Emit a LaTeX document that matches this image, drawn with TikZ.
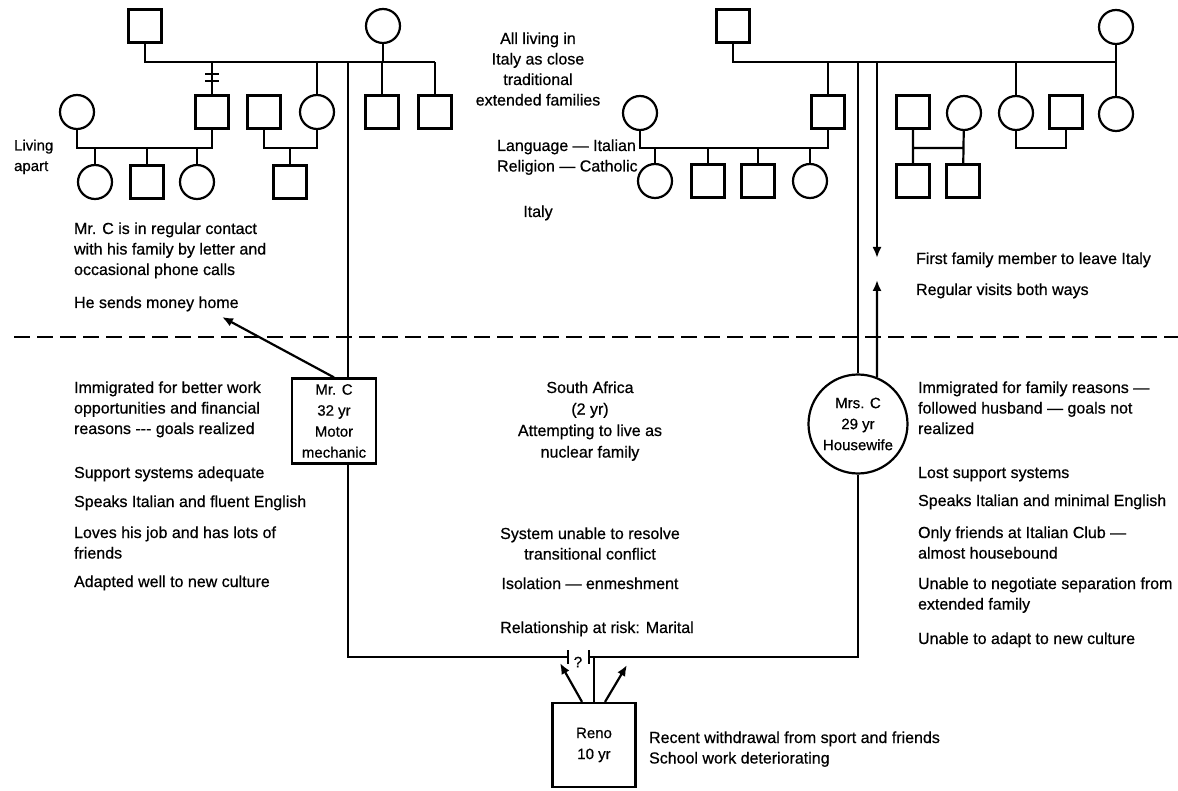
\documentclass[tikz,border=0pt]{standalone}
\usepackage{fontspec}
\setmainfont{Liberation Sans}[FakeBold=0.6]
\usetikzlibrary{arrows.meta,positioning,calc}

\begin{document}
\begin{tikzpicture}[x=1pt,y=-1pt,>={Latex[length=11pt,width=9pt]},line width=2.2pt,
  male/.style={draw,minimum size=33pt,inner sep=0pt},
  female/.style={draw,circle,minimum size=34pt,inner sep=0pt},
  index/.style={draw,align=center,inner sep=0pt,font=\fontsize{15}{21}\selectfont},
  note/.style={anchor=base west,align=left,inner sep=0pt,font=\fontsize{16}{20.5}\selectfont},
  mid/.style={anchor=base,align=center,inner sep=0pt,font=\fontsize{16}{20.5}\selectfont}]
  \useasboundingbox (0,0) rectangle (1178,791);

  % Mr C's family of origin (Italy)
  \node[male] (gfL) at (145,26) {};
  \node[female] (gmL) at (383,26) {};
  \coordinate (sibL) at (435,62);
  \draw (gfL) |- (sibL);
  \draw (gmL) -- (gmL |- sibL);
  \node[male] (uncL1) at (212,112) {};
  \node[male] (uncleinlawL) at (264,112) {};
  \node[female] (auntL) at (317,112) {};
  \node[male] (uncL2) at (382,112) {};
  \node[male] (uncL3) at (435,112) {};
  \draw (uncL1) -- (uncL1 |- sibL);
  \draw (auntL) -- (auntL |- sibL);
  \draw (uncL2) -- (uncL2 |- sibL);
  \draw (uncL3) -- (uncL3 |- sibL);
  \draw ($(uncL1.north)+(-7,-20)$) -- ++(14,0) ($(uncL1.north)+(-7,-13)$) -- ++(14,0);
  \node[female] (wifeL1) at (77,112) {};
  \coordinate (mlL1) at (145,148);
  \draw (wifeL1) |- (mlL1) -| (uncL1);
  \node[female] (cousL1) at (95,182) {};
  \node[male] (cousL2) at (147,182) {};
  \node[female] (cousL3) at (197,182) {};
  \foreach \k in {cousL1,cousL2,cousL3}
    \draw (\k) -- (\k |- mlL1);
  \coordinate (mlL2) at (290,148);
  \draw (uncleinlawL) |- (mlL2) -| (auntL);
  \node[male] (cousL4) at (290,182) {};
  \draw (cousL4) -- (cousL4 |- mlL2);
  \node[note,font=\fontsize{15}{20.5}\selectfont] (livingapart) at (13,171) {Living\\apart};

  % Mrs C's family of origin (Italy)
  \node[male] (gfR) at (733,26) {};
  \node[female] (gmR) at (1116,27) {};
  \coordinate (sibR) at (1116,62);
  \draw (gfR) |- (sibR);
  \node[female] (auntR3) at (1116,114) {};
  \draw (gmR) -- (auntR3);
  \node[male] (uncR1) at (828,112) {};
  \draw (uncR1) -- (uncR1 |- sibR);
  \node[female] (wifeR1) at (640,113) {};
  \coordinate (mlR1) at (734,148);
  \draw (wifeR1) |- (mlR1) -| (uncR1);
  \node[female] (cousR1) at (655,181) {};
  \node[male] (cousR2) at (708,181) {};
  \node[male] (cousR3) at (758,181) {};
  \node[female] (cousR4) at (810,181) {};
  \foreach \k in {cousR1,cousR2,cousR3,cousR4}
    \draw (\k) -- (\k |- mlR1);
  \node[male] (uncR2) at (913,112) {};
  \node[female] (auntR1) at (964,113) {};
  \node[male] (cousR5) at (913,181) {};
  \node[male] (cousR6) at (963,181) {};
  \coordinate (mlR2) at (938,148);
  \draw (uncR2) -- (cousR5) (auntR1) -- (cousR6) (mlR2 -| uncR2) -- (mlR2 -| auntR1);
  \node[female] (auntR2) at (1016,113) {};
  \node[male] (uncleinlawR) at (1066,112) {};
  \draw (auntR2) -- (auntR2 |- sibR);
  \coordinate (mlR3) at (1041,148);
  \draw (auntR2) |- (mlR3) -| (uncleinlawR);

  % Italy notes (base = last line)
  \node[note] (contact) at (73,275) {Mr. C is in regular contact\\with his family by letter and\\occasional phone calls};
  \node[note] (money) at (73,308) {He sends money home};
  \node[mid] (italyfam) at (538,105.5) {All living in\\Italy as close\\traditional\\extended families};
  \node[note] (langrel) at (496,171.5) {Language — Italian\\Religion — Catholic};
  \node[mid] (italy) at (538,217) {Italy};
  \node[note] (firstleave) at (915,264) {First family member to leave Italy};
  \node[note] (visits) at (915,295) {Regular visits both ways};

  % border between Italy and South Africa
  \coordinate (sepW) at (14,337);
  \coordinate (sepE) at (1178,337);
  \draw[line width=1.6pt,dash pattern=on 16pt off 7pt] (sepW) -- (sepE);

  % the C family in South Africa
  \node[index,minimum width=84pt,minimum height=85pt] (mrC) at (334,421) {Mr. C\\32 yr\\Motor\\mechanic};
  \node[index,circle,minimum size=99pt] (mrsC) at (858,424) {Mrs. C\\29 yr\\Housewife};
  \node[index,minimum width=83pt,minimum height=84pt] (reno) at (594,745) {Reno\\10 yr};
  \coordinate (mrCx) at (348,62);
  \coordinate (tickL) at (568,657);
  \coordinate (tickR) at (589,657);
  \draw (mrCx) -- (mrCx |- mrC.north);
  \draw (mrCx |- mrC.south) |- (tickL);
  \draw (tickR) -| (mrsC);
  \draw (mrsC) -- (mrsC |- sibR);
  \draw ($(tickL)+(0,-7)$) -- ++(0,14) ($(tickR)+(0,-7)$) -- ++(0,14);
  \node[inner sep=0pt,font=\fontsize{15}{15}\selectfont] (query) at (578,662) {?};
  \draw (reno) -- (reno |- tickR);
  \coordinate (home) at (222,317);
  \draw[->] (mrC.north) -- (home);
  \coordinate (leaveR) at (877,258);
  \coordinate (visitR) at (877,280);
  \draw[->] (leaveR |- sibR) -- (leaveR);
  \draw[->] (mrsC.68) -- (visitR);
  \coordinate (pullL) at (560,663);
  \coordinate (pullR) at (627,665);
  \draw[->] ($(reno.north)+(-12,0)$) -- (pullL);
  \draw[->] ($(reno.north)+(11,0)$) -- (pullR);

  % South Africa notes (base = last line)
  \node[note] (whyC) at (73,434) {Immigrated for better work\\opportunities and financial\\reasons -{}-{}- goals realized};
  \node[note] (supportC) at (73,478) {Support systems adequate};
  \node[note] (langC) at (73,507) {Speaks Italian and fluent English};
  \node[note] (jobC) at (73,558.5) {Loves his job and has lots of\\friends};
  \node[note] (cultureC) at (73,587) {Adapted well to new culture};
  \node[mid,font=\fontsize{16}{21.5}\selectfont] (sa) at (590,457.5) {South Africa\\(2 yr)\\Attempting to live as\\nuclear family};
  \node[mid] (conflict) at (590,559.5) {System unable to resolve\\transitional conflict};
  \node[mid] (isolation) at (590,589) {Isolation — enmeshment};
  \node[mid] (risk) at (597,633) {Relationship at risk: Marital};
  \node[note] (whyMrsC) at (917,434) {Immigrated for family reasons —\\followed husband — goals not\\realized};
  \node[note] (supportMrsC) at (917,478) {Lost support systems};
  \node[note] (langMrsC) at (917,506) {Speaks Italian and minimal English};
  \node[note] (clubMrsC) at (917,558.5) {Only friends at Italian Club —\\almost housebound};
  \node[note] (separation) at (917,609.5) {Unable to negotiate separation from\\extended family};
  \node[note] (cultureMrsC) at (917,644) {Unable to adapt to new culture};
  \node[note] (renoNote) at (648,763.5) {Recent withdrawal from sport and friends\\School work deteriorating};
\end{tikzpicture}
\end{document}
